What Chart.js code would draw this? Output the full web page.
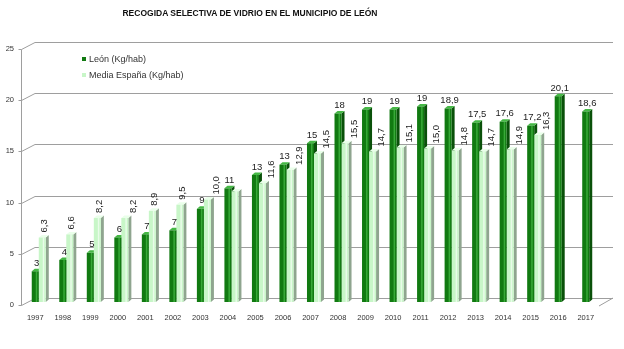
<!DOCTYPE html>
<html>
<head>
<meta charset="utf-8">
<script src="https://cdn.jsdelivr.net/npm/chart.js@4.4.1/dist/chart.umd.min.js"></script>
<style>
    body { margin: 0; background: #fff; }
    #wrap { position: relative; width: 624px; height: 349px; }
    #title {
        position: absolute; left: 0; top: 8px; width: 500px; text-align: center;
        font: bold 8.5px "Liberation Sans Narrow", "Liberation Sans", Arial, sans-serif;
        color: #111;
    }
    #legend {
        position: absolute; left: 82px; top: 51px;
        font: 9px "Liberation Sans", Arial, sans-serif; color: #333; line-height: 16px;
    }
    #legend .sw { display: inline-block; width: 4px; height: 4px; margin-right: 3px; vertical-align: 1px; }
</style>
</head>
<body>
<div id="wrap">
    <canvas id="chart" width="624" height="349"></canvas>
    <div id="title">RECOGIDA SELECTIVA DE VIDRIO EN EL MUNICIPIO DE LEÓN</div>
    <div id="legend"></div>
</div>
<script>
// values (labels keep the original Spanish formatting)
const years = ["1997", "1998", "1999", "2000", "2001", "2002", "2003", "2004", "2005", "2006", "2007",
    "2008", "2009", "2010", "2011", "2012", "2013", "2014", "2015", "2016", "2017"];
const leonValues = [3, 4.1, 4.8, 6.3, 6.6, 7, 9.1, 11.1, 12.4, 13.4, 15.5,
    18.4, 18.8, 18.8, 19.1, 18.9, 17.5, 17.6, 17.2, 20.1, 18.6];
const leonLabels = ["3", "4", "5", "6", "7", "7", "9", "11", "13", "13", "15",
    "18", "19", "19", "19", "18,9", "17,5", "17,6", "17,2", "20,1", "18,6"];
const espanaValues = [6.3, 6.6, 8.2, 8.2, 8.9, 9.5, 10.0, 10.8, 11.6, 12.9, 14.5,
    15.5, 14.7, 15.1, 15.0, 14.8, 14.7, 14.9, 16.3, null, null];
const espanaLabels = ["6,3", "6,6", "8,2", "8,2", "8,9", "9,5", "10,0", "", "11,6", "12,9", "14,5",
    "15,5", "14,7", "15,1", "15,0", "14,8", "14,7", "14,9", "16,3", "", ""];
const yTicks = [0, 5, 10, 15, 20, 25];

const FONT = '"Liberation Sans", Arial, sans-serif';
const faceColors = [
    { side: "#0a510a", top: "#45b845", shine: "rgba(90,210,90,0.55)" },
    { side: "#8fa58f", top: "#eaffea", shine: "rgba(255,255,255,0.6)" },
];
const pointLabels = [leonLabels, espanaLabels];

// back wall + gridlines drawn with a small perspective shift
const wallPlugin = {
    id: "wall",
    beforeDatasetsDraw(chart) {
        const { ctx, chartArea } = chart;
        const y = chart.scales.y;
        const dx = 10, dy = 4;
        const ax = chartArea.left - 3.5;
        ctx.save();
        ctx.strokeStyle = "#9e9e9e";
        ctx.lineWidth = 1;
        ctx.beginPath();
        yTicks.forEach((v) => {
            const py = Math.round(y.getPixelForValue(v)) + 0.5;
            ctx.moveTo(ax - 3, py + 3);
            ctx.lineTo(ax, py + 3);
            ctx.lineTo(chartArea.left + dx, py - dy);
            ctx.lineTo(chartArea.right + dx, py - dy);
        });
        ctx.moveTo(ax, Math.round(chartArea.top) + 3.5);
        ctx.lineTo(ax, Math.round(chartArea.bottom) + 3.5);
        ctx.moveTo(chartArea.right + dx, chartArea.bottom - dy);
        ctx.lineTo(chartArea.right - 4, chartArea.bottom + 4);
        ctx.stroke();
        ctx.restore();
    },
};

// side and top faces of every bar, drawn before the fronts
const facesPlugin = {
    id: "faces",
    beforeDatasetsDraw(chart) {
        const ctx = chart.ctx;
        const sdx = 3, sdy = 2.5;
        ctx.save();
        chart.data.datasets.forEach((ds, d) => {
            const meta = chart.getDatasetMeta(d);
            meta.data.forEach((el, i) => {
                if (ds.data[i] == null) return;
                const { x, y, base, width } = el.getProps(["x", "y", "base", "width"], true);
                const l = x - width / 2, r = x + width / 2;
                ctx.fillStyle = faceColors[d].side;
                ctx.beginPath();
                ctx.moveTo(r, y);
                ctx.lineTo(r + sdx, y - sdy);
                ctx.lineTo(r + sdx, base - sdy);
                ctx.lineTo(r, base);
                ctx.closePath();
                ctx.fill();
                ctx.fillStyle = faceColors[d].top;
                ctx.beginPath();
                ctx.moveTo(l, y);
                ctx.lineTo(l + sdx, y - sdy);
                ctx.lineTo(r + sdx, y - sdy);
                ctx.lineTo(r, y);
                ctx.closePath();
                ctx.fill();
            });
        });
        ctx.restore();
    },
    afterDatasetsDraw(chart) {
        const ctx = chart.ctx;
        ctx.save();
        chart.data.datasets.forEach((ds, d) => {
            const meta = chart.getDatasetMeta(d);
            meta.data.forEach((el, i) => {
                if (ds.data[i] == null) return;
                const { x, y, base, width } = el.getProps(["x", "y", "base", "width"], true);
                // little shine stripe on the front face
                ctx.fillStyle = faceColors[d].shine;
                ctx.fillRect(x + width / 2 - 3, y, 1.5, base - y);

                const text = pointLabels[d][i];
                if (!text) return;
                ctx.fillStyle = "#222";
                ctx.font = "9.5px " + FONT;
                ctx.textBaseline = "middle";
                if (d === 0) {
                    ctx.textAlign = "center";
                    ctx.fillText(text, x + 1.5, y - 8);
                } else {
                    // move the vertical label aside when the León label sits close above
                    const crowded = leonValues[i] + 2 > espanaValues[i];
                    ctx.save();
                    ctx.translate(x + (crowded ? 9 : 2), y - 5);
                    ctx.rotate(-Math.PI / 2);
                    ctx.textAlign = "left";
                    ctx.fillText(text, 0, 0);
                    ctx.restore();
                }
            });
        });
        ctx.restore();
    },
};

const chart = new Chart(document.getElementById("chart"), {
    type: "bar",
    data: {
        labels: years,
        datasets: [
            {
                label: "León (Kg/hab)",
                data: leonValues,
                backgroundColor: "#117a11",
                barPercentage: 1,
                categoryPercentage: 0.51,
            },
            {
                label: "Media España (Kg/hab)",
                data: espanaValues,
                backgroundColor: "#c8f6c8",
                barPercentage: 1,
                categoryPercentage: 0.51,
            },
        ],
    },
    options: {
        responsive: false,
        animation: false,
        layout: { padding: { top: 46, right: 21, left: 0, bottom: 0 } },
        plugins: {
            legend: { display: false },
            tooltip: { enabled: false },
        },
        scales: {
            x: {
                offset: true,
                grid: { display: false, drawTicks: false },
                border: { display: false },
                ticks: {
                    color: "#333",
                    font: { family: FONT, size: 7.5 },
                    labelOffset: -3.5,
                    padding: 11,
                    maxRotation: 0,
                    autoSkip: false,
                },
                afterFit: (scale) => { scale.height = 47; },
            },
            y: {
                min: 0,
                max: 25,
                grid: { display: false, drawTicks: false },
                border: { display: false },
                ticks: {
                    stepSize: 5,
                    color: "#333",
                    font: { family: FONT, size: 7.5 },
                    padding: 11,
                    labelOffset: 3,
                },
                afterFit: (scale) => { scale.width = 25; },
            },
        },
    },
    plugins: [wallPlugin, facesPlugin],
});

// legend built from the datasets
const legendEl = document.getElementById("legend");
chart.data.datasets.forEach((ds) => {
    const row = document.createElement("div");
    const sw = document.createElement("span");
    sw.className = "sw";
    sw.style.background = ds.backgroundColor;
    row.appendChild(sw);
    row.appendChild(document.createTextNode(ds.label));
    legendEl.appendChild(row);
});
</script>
</body>
</html>
